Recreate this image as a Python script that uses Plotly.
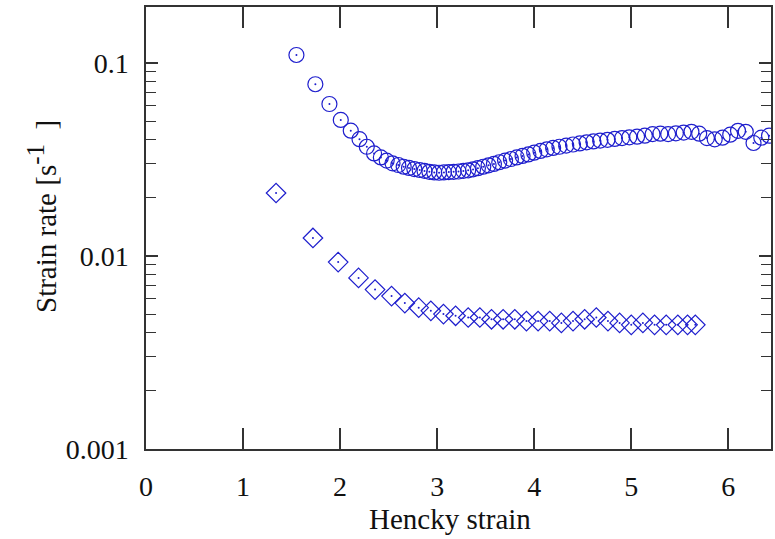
import plotly.graph_objects as go

# Circles series (upper)
circle_x = [1.55, 1.745, 1.89, 2.007, 2.11, 2.20, 2.275, 2.35, 2.42, 2.48, 2.54, 2.60,
            2.655, 2.71, 2.765, 2.82, 2.87, 2.92, 2.97, 3.02, 3.07, 3.12, 3.17, 3.22,
            3.27, 3.32, 3.37, 3.42, 3.475, 3.53, 3.585, 3.64, 3.70, 3.76, 3.82, 3.88,
            3.94, 4.00, 4.065, 4.13, 4.195, 4.26, 4.33, 4.40, 4.47, 4.54, 4.61, 4.68,
            4.755, 4.83, 4.905, 4.98, 5.06, 5.14, 5.22, 5.30, 5.38, 5.46, 5.54, 5.62,
            5.70, 5.78, 5.86, 5.94, 6.02, 6.10, 6.18, 6.26, 6.34, 6.42]
circle_y = [0.110, 0.0776, 0.0613, 0.0507, 0.0446, 0.0403, 0.0368, 0.0340, 0.0324, 0.0312, 0.0302, 0.0296,
            0.0290, 0.0286, 0.0282, 0.0279, 0.0276, 0.0273, 0.0271, 0.0270, 0.0271, 0.0272, 0.0273, 0.0274,
            0.0276, 0.0278, 0.0281, 0.0285, 0.0290, 0.0295, 0.0300, 0.0306, 0.0312, 0.0318, 0.0324, 0.0330,
            0.0336, 0.0343, 0.0350, 0.0357, 0.0363, 0.0368, 0.0373, 0.0378, 0.0383, 0.0388, 0.0392, 0.0396,
            0.0400, 0.0404, 0.0408, 0.0412, 0.0415, 0.0420, 0.0428, 0.0430, 0.0428, 0.0432, 0.0436, 0.0440,
            0.0430, 0.0408, 0.0402, 0.0410, 0.0425, 0.0445, 0.0440, 0.0385, 0.0410, 0.0420]

# Diamonds series (lower)
diamond_x = [1.34, 1.72, 1.98, 2.19, 2.36, 2.53, 2.667, 2.81, 2.935, 3.065, 3.19, 3.32,
             3.44, 3.56, 3.68, 3.80, 3.92, 4.04, 4.16, 4.28, 4.40, 4.52, 4.64, 4.76,
             4.88, 5.00, 5.12, 5.24, 5.36, 5.48, 5.58, 5.66]
diamond_y = [0.0212, 0.0124, 0.0093, 0.0077, 0.0067, 0.0062, 0.0057, 0.0054, 0.0052, 0.0050, 0.0049, 0.0048,
             0.0048, 0.0047, 0.0047, 0.0047, 0.0046, 0.0046, 0.0046, 0.0045, 0.0046, 0.0047, 0.0048, 0.0046,
             0.0045, 0.0044, 0.0045, 0.0044, 0.0044, 0.0044, 0.0044, 0.0044]

x_ticks = [0, 1, 2, 3, 4, 5, 6]
y_tickvals = [0.001, 0.01, 0.1]
y_ticktext = ["0.001", "0.01", "0.1"]
x_title = "Hencky strain"
y_title = "Strain rate [s<sup><span style=\"font-size:25px\">-1</span></sup>&nbsp;&nbsp;]"

BLUE = "rgb(30,30,205)"
AXC = "#333333"
FONT = "Liberation Serif"

fig = go.Figure()
fig.add_trace(go.Scatter(x=circle_x, y=circle_y, mode="markers",
                         marker=dict(symbol="circle-open", size=15, color=BLUE,
                                     line=dict(width=1.2, color=BLUE)),
                         showlegend=False))
fig.add_trace(go.Scatter(x=diamond_x, y=diamond_y, mode="markers",
                         marker=dict(symbol="diamond-open", size=15, color=BLUE,
                                     line=dict(width=1.2, color=BLUE)),
                         showlegend=False))
fig.add_trace(go.Scatter(x=circle_x + diamond_x, y=circle_y + diamond_y, mode="markers",
                         marker=dict(symbol="circle", size=2, color=BLUE),
                         showlegend=False))

fig.update_layout(
    width=775, height=539,
    margin=dict(l=146, r=4, t=7, b=90),
    paper_bgcolor="white", plot_bgcolor="white",
    font=dict(family=FONT, size=28, color="#111111"),
    xaxis=dict(range=[0, 6.44], tickvals=x_ticks, ticks="inside", ticklen=21,
               tickwidth=1.5, tickcolor=AXC, showline=True, linecolor=AXC, linewidth=1.5,
               mirror="ticks", showgrid=False, zeroline=False, ticklabelstandoff=12,
               automargin=False),
    yaxis=dict(type="log", range=[-3, -0.71], tickvals=y_tickvals, ticktext=y_ticktext,
               ticks="inside", ticklen=12, tickwidth=1.5, tickcolor=AXC,
               showline=True, linecolor=AXC, linewidth=1.5, mirror="ticks",
               showgrid=False, zeroline=False, ticklabelstandoff=10, automargin=False,
               minor=dict(ticks="inside", ticklen=10, tickwidth=1.2, tickcolor=AXC,
                          showgrid=False, dtick="D1")),
    annotations=[
        dict(text=x_title, xref="paper", yref="paper", x=(450 - 146) / 625, y=(449 - 519) / 442,
             xanchor="center", yanchor="middle", showarrow=False, font=dict(size=29)),
        dict(text=y_title, xref="paper", yref="paper", x=(42 - 146) / 625, y=(449 - 217) / 442,
             xanchor="center", yanchor="middle", showarrow=False, textangle=-90,
             font=dict(size=29)),
    ],
)

fig.write_html("out.html", config={"displayModeBar": False},
               post_script="document.body.style.margin='0';document.body.style.overflow='hidden';")
